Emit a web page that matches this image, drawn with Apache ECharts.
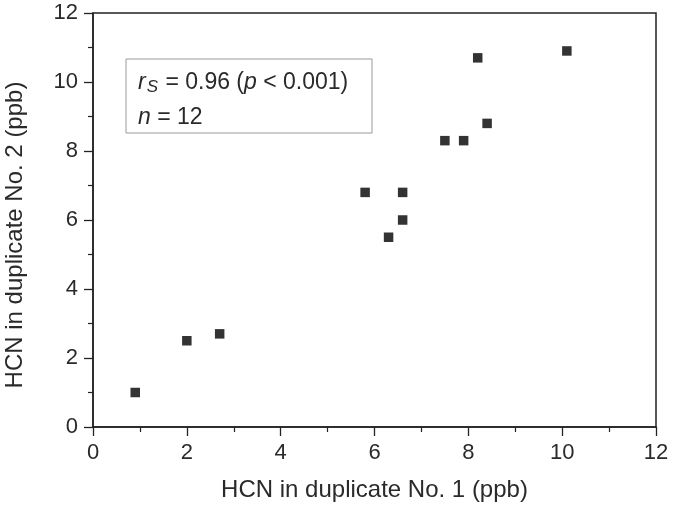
<!DOCTYPE html>
<html><head><meta charset="utf-8">
<script src="https://cdn.jsdelivr.net/npm/echarts@6/dist/echarts.min.js"></script>
<style>html,body{margin:0;padding:0;background:#fff}#c{width:675px;height:508px}</style>
</head><body><div id="c"></div>
<script>
const dup1 = [0.9, 2.0, 2.7, 5.8, 6.3, 6.6, 6.6, 7.5, 7.9, 8.2, 8.4, 10.1];
const dup2 = [1.0, 2.5, 2.7, 6.8, 5.5, 6.8, 6.0, 8.3, 8.3, 10.7, 8.8, 10.9];
const xTitle = 'HCN in duplicate No. 1 (ppb)';
const yTitle = 'HCN in duplicate No. 2 (ppb)';
const statLine1 = ['r', 'S', ' = 0.96 (', 'p', ' < 0.001)'];
const statLine2 = ['n', ' = 12'];

const pts = dup1.map((x, i) => [x, dup2[i]]);
const font = 'Liberation Sans, Arial, sans-serif';
const txt = '#2a2a2a';
const fs = 22;
const fsTitle = 24;
const fsLeg = 23;
const chart = echarts.init(document.getElementById('c'));
const axisCommon = {
  min: 0, max: 12, interval: 2,
  axisLine: {show: true, lineStyle: {color: '#222', width: 1.5}},
  axisTick: {show: true, inside: false, length: 9, lineStyle: {color: '#222', width: 1.3}},
  minorTick: {show: true, splitNumber: 2, length: 5, lineStyle: {color: '#222', width: 1.2}},
  splitLine: {show: false},
  axisLabel: {fontFamily: font, fontSize: fs, color: txt, margin: 15},
  nameLocation: 'middle'
};
chart.setOption({
  animation: false,
  grid: {left: 93, right: 19, top: 13, bottom: 81, containLabel: false, outerBoundsMode: 'none',
         show: true, borderColor: '#222', borderWidth: 1.5},
  xAxis: Object.assign({}, axisCommon, {type: 'value', name: xTitle, nameGap: 51,
    nameTextStyle: {fontFamily: font, fontSize: fsTitle, color: txt}}),
  yAxis: Object.assign({}, axisCommon, {type: 'value', name: yTitle, nameGap: 66,
    nameTextStyle: {fontFamily: font, fontSize: fsTitle, color: txt, padding: [0, 30, 0, 0]}}),
  series: [{
    type: 'scatter', data: pts, symbol: 'rect', symbolSize: 9.5,
    itemStyle: {color: '#000'}
  }],
  graphic: [
    {type: 'rect', shape: {x: 126, y: 59, width: 246, height: 74},
     style: {fill: '#fff', stroke: '#999', lineWidth: 1}, z: 10},
    {type: 'text', x: 138, y: 69, z: 11,
     style: {
       text: '{it|' + statLine1[0] + '}{sub|' + statLine1[1] + '}{n|' + statLine1[2] + '}{it|' + statLine1[3] + '}{n|' + statLine1[4] + '}',
       font: fsLeg + 'px ' + font, fill: txt,
       rich: {
         it: {fontStyle: 'italic', fontSize: fsLeg, fontFamily: font, fill: txt, lineHeight: 27},
         n: {fontSize: fsLeg, fontFamily: font, fill: txt, lineHeight: 27},
         sub: {fontStyle: 'italic', fontSize: 17, fontFamily: font, fill: txt, padding: [11, 1, 0, 1], verticalAlign: 'bottom', lineHeight: 18}
       }
     }},
    {type: 'text', x: 138, y: 106, z: 11,
     style: {
       text: '{it|' + statLine2[0] + '}{n|' + statLine2[1] + '}',
       font: fsLeg + 'px ' + font, fill: txt,
       rich: {
         it: {fontStyle: 'italic', fontSize: fsLeg, fontFamily: font, fill: txt},
         n: {fontSize: fsLeg, fontFamily: font, fill: txt}
       }
     }}
  ]
});
</script></body></html>
